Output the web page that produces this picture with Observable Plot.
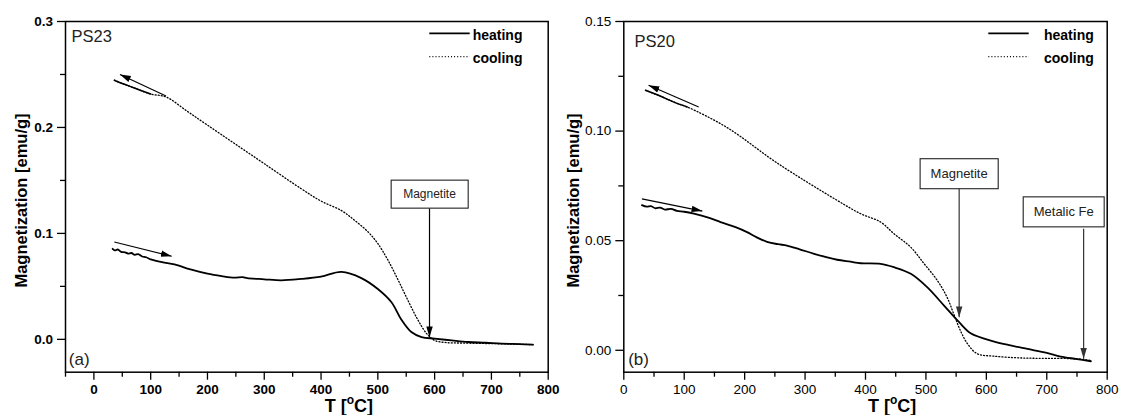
<!DOCTYPE html>
<html><head><meta charset="utf-8">
<script src="https://cdn.jsdelivr.net/npm/d3@7"></script>
<script src="https://cdn.jsdelivr.net/npm/@observablehq/plot@0.6"></script>
<style>
body{margin:0;background:#fff;}
#wrap{display:flex;width:1121px;height:415px;overflow:hidden;background:#fff;}
#wrap svg{display:block;flex:none;}
</style></head><body><div id="wrap"></div>
<script>
// ---------- Panel (a) PS23 ----------
const heatT_a = [33, 37, 42, 48, 55, 60, 66, 72, 78, 85, 92, 100, 120, 142, 170, 200, 225, 247, 262, 270, 300, 330, 365, 400, 436, 471, 500, 524, 541, 559, 577, 600, 630, 659, 690, 718, 750, 773];
const heatM_a = [0.0855, 0.0840, 0.0848, 0.0826, 0.0822, 0.0810, 0.0815, 0.0798, 0.0805, 0.0782, 0.0775, 0.0755, 0.0728, 0.0708, 0.0660, 0.0620, 0.0597, 0.0582, 0.0588, 0.0578, 0.0567, 0.0557, 0.0570, 0.0592, 0.0636, 0.0578, 0.0475, 0.0350, 0.0190, 0.0069, 0.0022, 0.0007, -0.0010, -0.0025, -0.0032, -0.0040, -0.0045, -0.0050];
const coolT_a = [36, 50, 70, 100, 127, 165, 200, 247, 300, 365, 400, 436, 459, 483, 500, 518, 536, 553, 571, 586, 600, 620, 650, 700, 740, 775];
const coolM_a = [0.2446, 0.2415, 0.2375, 0.2315, 0.2288, 0.2150, 0.2022, 0.1851, 0.1658, 0.1422, 0.1305, 0.1215, 0.1124, 0.1013, 0.0904, 0.0746, 0.0557, 0.0368, 0.0179, 0.0054, -0.0010, -0.0030, -0.0035, -0.0040, -0.0045, -0.0050];
const dirArrows_a = [
  {T1: 127, M1: 0.2297, T2: 46, M2: 0.2500},
  {T1: 36, M1: 0.0919, T2: 137, M2: 0.0784}
];
const annots_a = [{label: "Magnetite", T: 591, Mtop: 0.1237, Mtip: 0.0020, Tx: 591, My: 0.1369}];

// ---------- Panel (b) PS20 ----------
const heatT_b = [30, 38, 45, 52, 60, 68, 78, 88, 100, 116, 140, 160, 185, 204, 220, 237, 255, 270, 290, 315, 335, 353, 375, 392, 425, 447, 475, 502, 530, 555, 574, 613, 640, 668, 700, 723, 750, 773];
const heatM_b = [0.0662, 0.0655, 0.0658, 0.0648, 0.0651, 0.0642, 0.0645, 0.0636, 0.0632, 0.0623, 0.0605, 0.0585, 0.0562, 0.0539, 0.0515, 0.0495, 0.0484, 0.0478, 0.0462, 0.0440, 0.0425, 0.0413, 0.0404, 0.0397, 0.0394, 0.0379, 0.0349, 0.0288, 0.0204, 0.0128, 0.0078, 0.0040, 0.0022, 0.0006, -0.0012, -0.0029, -0.0040, -0.0050];
const coolT_b = [36, 60, 85, 105, 171, 254, 353, 392, 425, 447, 475, 497, 519, 535, 546, 557, 569, 585, 613, 657, 700, 751, 773];
const coolM_b = [0.1186, 0.1160, 0.1130, 0.1110, 0.1016, 0.0854, 0.0684, 0.0623, 0.0585, 0.0532, 0.0470, 0.0395, 0.0318, 0.0242, 0.0166, 0.0090, 0.0029, -0.0016, -0.0027, -0.0035, -0.0037, -0.0039, -0.0047];
const dirArrows_b = [
  {T1: 124, M1: 0.1110, T2: 41, M2: 0.1209},
  {T1: 30, M1: 0.0691, T2: 130, M2: 0.0635}
];
const annots_b = [
  {label: "Magnetite", T: 555, Mtop: 0.0738, Mtip: 0.0151, Tx: 555, My: 0.0804},
  {label: "Metalic Fe", T: 761, Mtop: 0.0554, Mtip: -0.0039, Tx: 728, My: 0.0630}
];

// ---------- Axis ticks ----------
const xMajor = [0, 100, 200, 300, 400, 500, 600, 700, 800];
const xMinor_a = [-50, 50, 150, 250, 350, 450, 550, 650, 750];
const xMinor_b = [50, 150, 250, 350, 450, 550, 650, 750];
const yMajor_a = [0, 0.1, 0.2, 0.3];
const yMinor_a = [0.05, 0.15, 0.25];
const yMajor_b = [0, 0.05, 0.10, 0.15];
const yMinor_b = [0.025, 0.075, 0.125];

const FONT = "'Liberation Sans', Arial, Helvetica, sans-serif";

function panel(o) {
  const heat = o.heatT.map((t, i) => ({T: t, M: o.heatM[i]}));
  const cool = o.coolT.map((t, i) => ({T: t, M: o.coolM[i]}));
  const dense = cool.filter(d => d.T <= o.denseMax);
  const svg = Plot.plot({
    width: o.width, height: 415,
    marginLeft: o.ml, marginRight: o.mr, marginTop: 21, marginBottom: 43.3,
    x: {domain: o.xDomain},
    y: {domain: o.yDomain},
    style: {fontFamily: FONT, background: "white", color: "black", overflow: "visible"},
    marks: [
      Plot.axisX({ticks: xMajor, tickSize: 8, tickPadding: 4, tickFormat: d => String(d), fontSize: 13.5, fontWeight: o.tickWeight, strokeWidth: 1.3, label: null}),
      Plot.axisX({ticks: o.xMinor, tickSize: 5, tickFormat: () => "", strokeWidth: 1.3, label: null}),
      Plot.axisY({ticks: o.yMajor, tickSize: 8, tickPadding: 4.5, tickFormat: d3.format(o.yFmt), fontSize: 13.5, fontWeight: o.tickWeight, strokeWidth: 1.3, label: null}),
      Plot.axisY({ticks: o.yMinor, tickSize: 5, tickFormat: () => "", strokeWidth: 1.3, label: null}),
      Plot.frame({stroke: "black", strokeWidth: 1.5}),
      Plot.line(cool, {x: "T", y: "M", stroke: "black", strokeWidth: 1.3, strokeDasharray: "1,2.1", curve: "catmull-rom"}),
      Plot.line(dense, {x: "T", y: "M", stroke: "black", strokeWidth: 1.5, curve: "catmull-rom"}),
      Plot.line(heat, {x: "T", y: "M", stroke: "black", strokeWidth: 1.8, curve: "catmull-rom"}),
      Plot.link(o.dirArrows, {x1: "T1", y1: "M1", x2: "T2", y2: "M2", stroke: "black", strokeWidth: 1.2, markerEnd: "arrow"}),
      Plot.link(o.annots, {x1: "T", y1: "Mtop", x2: "T", y2: "Mtip", stroke: o.annColor, strokeWidth: 1.2, markerEnd: "arrow"}),
      Plot.text(o.annots, {x: "Tx", y: "My", text: "label", fontSize: o.annSize, fill: "#222"}),
      Plot.text([o.sample], {frameAnchor: "top-left", dx: o.sampleDx, dy: o.sampleDy, lineAnchor: "bottom", textAnchor: "start", fontSize: 16.5, fill: "#222"}),
      Plot.text([o.tag], {frameAnchor: "bottom-left", dx: o.tagDx, dy: -7.7, lineAnchor: "bottom", textAnchor: "start", fontSize: 17, fill: "#222"})
    ]
  });
  document.getElementById("wrap").appendChild(svg);
  const s = d3.select(svg);
  const fr = o.width - o.mr, ft = 21;

  // filled arrowheads
  s.selectAll("marker").each(function() {
    const m = d3.select(this);
    const c = m.attr("stroke") || "black";
    m.attr("viewBox", "-10 -5 10 10").attr("markerWidth", 9).attr("markerHeight", 9)
     .attr("fill", c).attr("stroke", "none");
    m.selectAll("path").attr("d", "M-10,-3L0,0L-10,3Z");
  });

  // annotation boxes (drawn in the text's own transformed space)
  const labels = new Set(o.annots.map(d => d.label));
  s.selectAll("text").filter(function() { return labels.has(this.textContent); }).each(function() {
    const b = this.getBBox();
    const px = o.boxPadX, py = o.boxPadY;
    d3.select(this.parentNode).insert("rect", () => this)
      .attr("transform", this.getAttribute("transform"))
      .attr("x", b.x - px).attr("y", b.y - py)
      .attr("width", b.width + 2 * px).attr("height", b.height + 2 * py)
      .attr("fill", "white").attr("stroke", "#222").attr("stroke-width", 1.1);
  });

  // legend
  const lg = s.append("g").attr("font-family", FONT).attr("font-weight", "bold").attr("font-size", 14)
    .attr("fill", "black").attr("text-anchor", "start");
  lg.append("line").attr("x1", fr - 118.4).attr("x2", fr - 78).attr("y1", ft + 12.3).attr("y2", ft + 12.3)
    .attr("stroke", "black").attr("stroke-width", 1.8);
  lg.append("line").attr("x1", fr - 118.4).attr("x2", fr - 78).attr("y1", ft + 35.7).attr("y2", ft + 35.7)
    .attr("stroke", "black").attr("stroke-width", 1.2).attr("stroke-dasharray", "1,2.1");
  lg.append("text").attr("x", fr - o.legTextOff).attr("y", ft + 19).text("heating");
  lg.append("text").attr("x", fr - o.legTextOff).attr("y", ft + 41.5).text("cooling");

  // y axis title
  s.append("text").attr("transform", `translate(${o.yTitleX},200.5) rotate(-90)`)
    .attr("text-anchor", "middle").attr("font-family", FONT).attr("font-weight", "bold")
    .attr("font-size", 16.5).attr("fill", "black").text("Magnetization [emu/g]");

  // x axis title with superscript
  const xs = svg.scale("x");
  const tx = s.append("text").attr("x", xs.apply(o.xTitleT)).attr("y", 411.5)
    .attr("text-anchor", "middle").attr("font-family", FONT).attr("font-weight", "bold")
    .attr("font-size", 18).attr("fill", "black");
  tx.append("tspan").text("T [");
  tx.append("tspan").attr("font-size", 12).attr("dy", -8).text("o");
  tx.append("tspan").attr("dy", 8).text("C]");
}

panel({
  width: 560, ml: 65, mr: 12.3, xDomain: [-50, 800], yDomain: [-0.031, 0.3],
  heatT: heatT_a, heatM: heatM_a, coolT: coolT_a, coolM: coolM_a, denseMax: 100,
  dirArrows: dirArrows_a, annots: annots_a, annColor: "black", annSize: 12, boxPadX: 12, boxPadY: 7,
  xMinor: xMinor_a, yMajor: yMajor_a, yMinor: yMinor_a, yFmt: ".1f", tickWeight: "bold",
  sample: "PS23", sampleDx: 6, sampleDy: 20.7, tag: "(a)", tagDx: 3.3,
  legTextOff: 75, yTitleX: 27, xTitleT: 450
});
panel({
  width: 561, ml: 63.3, mr: 14.3, xDomain: [0, 800], yDomain: [-0.01, 0.15],
  heatT: heatT_b, heatM: heatM_b, coolT: coolT_b, coolM: coolM_b, denseMax: 105,
  dirArrows: dirArrows_b, annots: annots_b, annColor: "#333", annSize: 13, boxPadX: 10.5, boxPadY: 7.5,
  xMinor: xMinor_b, yMajor: yMajor_b, yMinor: yMinor_b, yFmt: ".2f", tickWeight: "normal",
  sample: "PS20", sampleDx: 10.7, sampleDy: 25, tag: "(b)", tagDx: 4.4,
  legTextOff: 62.7, yTitleX: 18.5, xTitleT: 445
});
</script></body></html>
